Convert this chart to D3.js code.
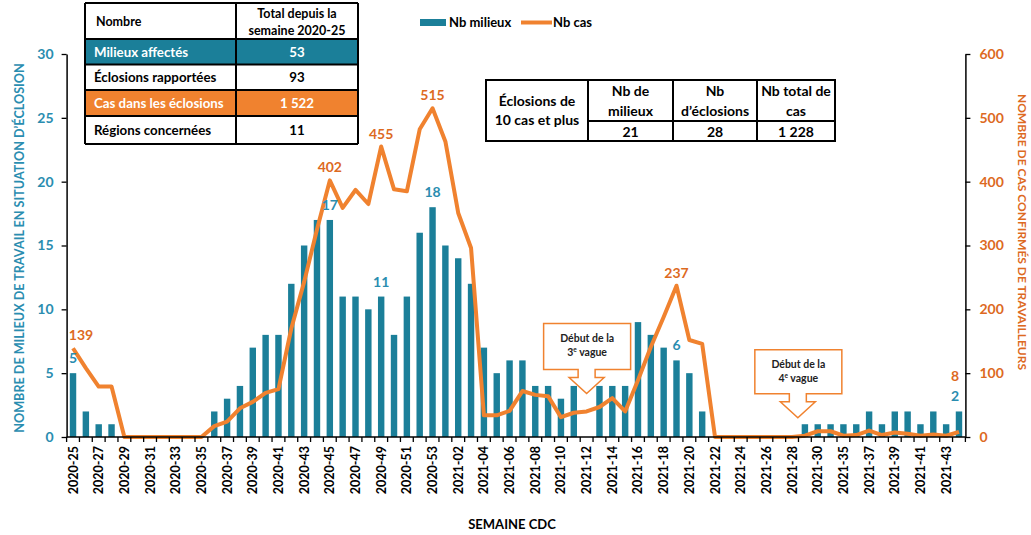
<!DOCTYPE html>
<html><head><meta charset="utf-8">
<script src="https://cdn.jsdelivr.net/npm/d3@7"></script>
<style>
html,body{margin:0;padding:0;background:#fff;}
svg{display:block;font-family:Lato,"Open Sans",sans-serif;font-weight:700;}
</style></head><body>
<svg id="c" width="1031" height="535"></svg>
<script>
// ---------- DATA ----------
const weeks = ["2020-25","2020-26","2020-27","2020-28","2020-29","2020-30","2020-31","2020-32","2020-33","2020-34",
"2020-35","2020-36","2020-37","2020-38","2020-39","2020-40","2020-41","2020-42","2020-43","2020-44",
"2020-45","2020-46","2020-47","2020-48","2020-49","2020-50","2020-51","2020-52","2020-53","2021-01",
"2021-02","2021-03","2021-04","2021-05","2021-06","2021-07","2021-08","2021-09","2021-10","2021-11",
"2021-12","2021-13","2021-14","2021-15","2021-16","2021-17","2021-18","2021-19","2021-20","2021-21",
"2021-22","2021-23","2021-24","2021-25","2021-26","2021-27","2021-28","2021-29","2021-30","2021-34",
"2021-35","2021-36","2021-37","2021-38","2021-39","2021-40","2021-41","2021-42","2021-43","2021-44"];
const nbMilieux = [5,2,1,1,0,0,0,0,0,0,0,2,3,4,7,8,8,12,15,17,17,11,11,10,11,8,11,16,18,15,14,12,7,5,6,6,4,4,3,4,
0,4,4,4,9,8,7,6,5,2,0,0,0,0,0,0,0,1,1,1,1,1,2,1,2,2,1,2,1,2];
const nbCas = [139,108,79,79,0,0,0,0,0,0,0,17,24,45,55,69,75,170,243,325,402,359,387,365,455,388,385,482,515,463,
351,296,34,34,41,72,66,64,31,38,40,47,61,40,89,141,188,237,152,146,0,0,0,0,0,0,0,2,9,9,2,3,10,3,7,5,2,4,2,8];
const tickLabels = ["2020-25","2020-27","2020-29","2020-31","2020-33","2020-35","2020-37","2020-39","2020-41","2020-43",
"2020-45","2020-47","2020-49","2020-51","2020-53","2021-02","2021-04","2021-06","2021-08","2021-10","2021-12",
"2021-14","2021-16","2021-18","2021-20","2021-22","2021-24","2021-26","2021-28","2021-30","2021-35","2021-37",
"2021-39","2021-41","2021-43"];
const leftTicks = [0,5,10,15,20,25,30];
const rightTicks = [0,100,200,300,400,500,600];
const labeledWeeks = ["2020-25","2020-45","2020-49","2020-53","2021-19","2021-44"];
const seriesNames = ["Nb milieux","Nb cas"];
const table1Header = ["Nombre","Total depuis la|semaine 2020-25"];
const table1Rows = [["Milieux affectés","53"],["Éclosions rapportées","93"],["Cas dans les éclosions","1 522"],["Régions concernées","11"]];
const table2Header = ["Éclosions de|10 cas et plus","Nb de|milieux","Nb|d’éclosions","Nb total de|cas"];
const table2Values = ["21","28","1 228"];
const callouts = [{week:"2021-12", l1:"Début de la", num:"3", sup:"e", rest:" vague"},
                  {week:"2021-29", l1:"Début de la", num:"4", sup:"e", rest:" vague"}];

// ---------- STYLE ----------
const TEAL="#1b7f99", TEAL_TXT="#2a8db0", ORANGE="#f0822f", ORANGE_TXT="#dd6a1f";
const svg = d3.select("#c");
const x = d3.scaleBand().domain(weeks).range([66.6,965.4]).paddingInner(0.5).paddingOuter(0.25);
const yL = d3.scaleLinear().domain([0,30]).range([437,54]);
const yR = d3.scaleLinear().domain([0,600]).range([437,54]);
const step = x.step(), bw = x.bandwidth();
const cx = w => x(w) + bw/2;

// bars
svg.append("g").selectAll("rect").data(weeks).join("rect")
  .attr("x", d=>x(d)).attr("width", bw)
  .attr("y", (d,i)=>yL(nbMilieux[i])).attr("height",(d,i)=>yL(0)-yL(nbMilieux[i]))
  .attr("fill", TEAL);

// line
const line = d3.line().x((d,i)=>cx(weeks[i])).y(d=>yR(d)).curve(d3.curveLinear);
svg.append("path").datum(nbCas).attr("d", line).attr("fill","none")
  .attr("stroke", ORANGE).attr("stroke-width",4).attr("stroke-linejoin","round");

// x axis
const xg = svg.append("g");
xg.append("line").attr("x1",x.range()[0]).attr("x2",x.range()[1]).attr("y1",yL(0)).attr("y2",yL(0)).attr("stroke","#000").attr("stroke-width",1.5);
const bounds = weeks.map(w=>x(w)-step*x.paddingInner()/2).concat([x(weeks[weeks.length-1])+bw+step*x.paddingInner()/2]);
xg.selectAll("line.t").data(bounds).join("line").attr("class","t")
  .attr("x1",d=>d).attr("x2",d=>d).attr("y1",yL(0)).attr("y2",yL(0)+5).attr("stroke","#000").attr("stroke-width",1.3);
xg.selectAll("text").data(tickLabels).join("text")
  .attr("transform", d=>`translate(${cx(d)+4.5},${yL(0)+9}) rotate(-90)`)
  .attr("text-anchor","end").attr("font-size",12.5).attr("fill","#000").text(d=>d);

// left axis
const lg = svg.append("g").attr("transform",`translate(${x.range()[0]},0)`)
  .call(d3.axisLeft(yL).tickValues(leftTicks).tickSize(5).tickSizeOuter(0).tickPadding(8));
lg.select(".domain").attr("stroke-width",1.5);
lg.selectAll(".tick line").attr("stroke-width",1.3);
lg.selectAll(".tick text").attr("fill",TEAL_TXT).attr("font-size",14).attr("font-family","Lato").attr("font-weight",700);

// right axis
const rg = svg.append("g").attr("transform",`translate(${x.range()[1]},0)`)
  .call(d3.axisRight(yR).tickValues(rightTicks).tickSize(5).tickSizeOuter(0).tickPadding(9));
rg.select(".domain").attr("stroke-width",1.5);
rg.selectAll(".tick line").attr("stroke-width",1.3);
rg.selectAll(".tick text").attr("fill",ORANGE_TXT).attr("font-size",14).attr("font-family","Lato").attr("font-weight",700);

// axis titles
svg.append("text").attr("transform","translate(24,248) rotate(-90)").attr("text-anchor","middle")
  .attr("font-size",12.6).attr("fill",TEAL_TXT).text("NOMBRE DE MILIEUX DE TRAVAIL EN SITUATION D’ÉCLOSION");
svg.append("text").attr("transform","translate(1018,232) rotate(90)").attr("text-anchor","middle")
  .attr("font-size",12).attr("fill",ORANGE_TXT).text("NOMBRE DE CAS CONFIRMÉS DE TRAVAILLEURS");
svg.append("text").attr("x",512).attr("y",529).attr("text-anchor","middle").attr("font-size",13).attr("fill","#000").text("SEMAINE CDC");

// data labels
labeledWeeks.forEach(w=>{
  const i = weeks.indexOf(w);
  const last = i===weeks.length-1;
  const bx = cx(w) - (last ? 4 : 0);
  const barLblY = yL(nbMilieux[i]) - 10;
  svg.append("text").attr("x",bx).attr("y",barLblY).attr("text-anchor","middle")
    .attr("font-size",14).attr("fill",TEAL_TXT).text(nbMilieux[i]);
  const lineLblY = Math.min(yR(nbCas[i]) - 8, barLblY - 20);
  svg.append("text").attr("x",i===0? bx+8 : bx).attr("y",lineLblY).attr("text-anchor","middle")
    .attr("font-size",14).attr("fill",ORANGE_TXT).text(nbCas[i]);
});

// callouts
const callG = svg.append("g");
callouts.forEach((c,k)=>{
  const tipX = k===0 ? cx(c.week) : x(c.week)-step*0.3;
  const tipY = k===0 ? yL(3.4) : yL(1.5);
  const bwid = 87, bh = k===0 ? 46 : 44;
  const x0 = tipX - 43, x1 = x0 + bwid;
  const yBot = tipY - 24, yTop = yBot - bh, yHead = tipY - 16;
  const p = `M${x0},${yTop}H${x1}V${yBot}H${tipX+8.5}V${yHead}H${tipX+17.5}L${tipX},${tipY}L${tipX-17.5},${yHead}H${tipX-8.5}V${yBot}H${x0}Z`;
  callG.append("path").attr("d",p).attr("fill","#fff").attr("stroke",ORANGE).attr("stroke-width",1.5);
  callG.append("text").attr("x",(x0+x1)/2).attr("y",yTop+18).attr("text-anchor","middle").attr("font-size",10.5).attr("fill","#222").text(c.l1);
  const t = callG.append("text").attr("x",(x0+x1)/2).attr("y",yTop+32).attr("text-anchor","middle").attr("font-size",10.5).attr("fill","#222");
  t.append("tspan").text(c.num);
  t.append("tspan").attr("font-size",6.5).attr("dy",-4).text(c.sup);
  t.append("tspan").attr("dy",4).text(c.rest);
});

// legend
const lgd = svg.append("g");
lgd.append("rect").attr("x",420).attr("y",19).attr("width",26).attr("height",7).attr("fill",TEAL);
lgd.append("text").attr("x",449).attr("y",27).attr("font-size",13).attr("fill","#000").text(seriesNames[0]);
lgd.append("line").attr("x1",521).attr("x2",552).attr("y1",22.5).attr("y2",22.5).attr("stroke",ORANGE).attr("stroke-width",4);
lgd.append("text").attr("x",553).attr("y",27).attr("font-size",13).attr("fill","#000").text(seriesNames[1]);

// table 1
const t1 = svg.append("g");
const t1x = [85,236,358], t1y = [3,39,64.5,90,116,144];
const fills = ["#fff",TEAL,"#fff",ORANGE,"#fff"];
for(let r=0;r<5;r++){
  t1.append("rect").attr("x",t1x[0]).attr("y",t1y[r]).attr("width",t1x[2]-t1x[0]).attr("height",t1y[r+1]-t1y[r]).attr("fill",fills[r]);
}
for(let r=0;r<6;r++) t1.append("line").attr("x1",t1x[0]).attr("x2",t1x[2]).attr("y1",t1y[r]).attr("y2",t1y[r]).attr("stroke","#000").attr("stroke-width",2);
t1x.forEach(v=>t1.append("line").attr("x1",v).attr("x2",v).attr("y1",t1y[0]).attr("y2",t1y[5]).attr("stroke","#000").attr("stroke-width",2));
t1.append("text").attr("x",96).attr("y",26).attr("font-size",12.5).attr("fill","#000").text(table1Header[0]);
table1Header[1].split("|").forEach((s,j)=>t1.append("text").attr("x",(t1x[1]+t1x[2])/2).attr("y",18+j*17).attr("text-anchor","middle").attr("font-size",12.5).attr("fill","#000").text(s));
table1Rows.forEach((row,r)=>{
  const col = (r===0||r===2) ? "#fff" : "#000";
  const yy = (t1y[r+1]+t1y[r+2])/2 + 5;
  t1.append("text").attr("x",94).attr("y",yy).attr("font-size",13.3).attr("fill",col).text(row[0]);
  t1.append("text").attr("x",(t1x[1]+t1x[2])/2).attr("y",yy).attr("text-anchor","middle").attr("font-size",13.3).attr("fill",col).text(row[1]);
});

// table 2
const t2 = svg.append("g");
const t2x = [486,588,673,757,835], t2y=[80,121,141];
t2.append("rect").attr("x",t2x[0]).attr("y",t2y[0]).attr("width",t2x[4]-t2x[0]).attr("height",t2y[2]-t2y[0]).attr("fill","#fff").attr("stroke","#000").attr("stroke-width",2);
t2x.slice(1,4).forEach(v=>t2.append("line").attr("x1",v).attr("x2",v).attr("y1",t2y[0]).attr("y2",t2y[2]).attr("stroke","#000").attr("stroke-width",2));
t2.append("line").attr("x1",t2x[1]).attr("x2",t2x[4]).attr("y1",t2y[1]).attr("y2",t2y[1]).attr("stroke","#000").attr("stroke-width",2);
table2Header.forEach((h,c)=>{
  const parts = h.split("|");
  const mx = (t2x[c]+t2x[c+1])/2;
  const y0 = c===0 ? 106 : 96;
  parts.forEach((s,j)=>t2.append("text").attr("x",mx).attr("y",y0+j*(c===0?19:20)).attr("text-anchor","middle").attr("font-size",14).attr("fill","#000").text(s));
});
table2Values.forEach((v,c)=>t2.append("text").attr("x",(t2x[c+1]+t2x[c+2])/2).attr("y",136.5).attr("text-anchor","middle").attr("font-size",14).attr("fill","#000").text(v));
</script>
</body></html>
